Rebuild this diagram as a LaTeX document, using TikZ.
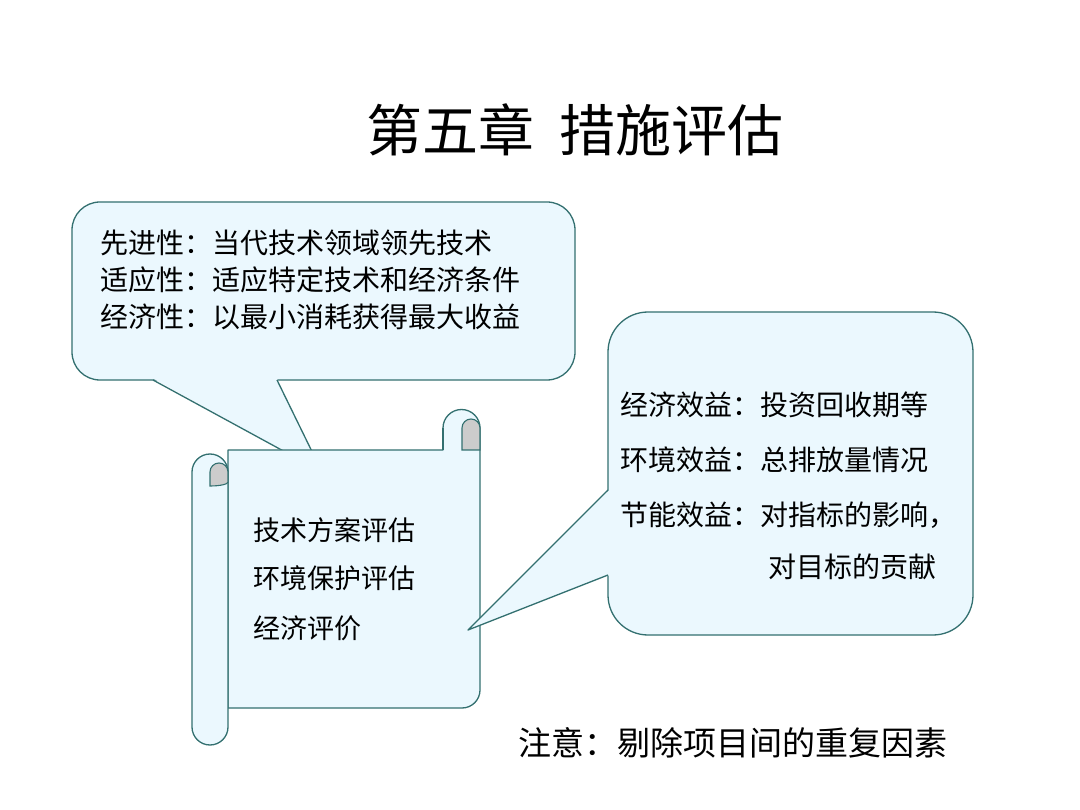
\documentclass[tikz,border=0pt]{standalone}
\usepackage{fontspec}
\newfontfamily\cjk{Noto Sans CJK SC}
\begin{document}
\begin{tikzpicture}[x=1pt,y=-1pt,
  shp/.style={draw=teal!60!black!80,fill=cyan!8,line width=1.3pt,line join=round},
  edge/.style={draw=teal!60!black!80,line width=1.3pt,line join=round},
  roll/.style={draw=teal!60!black!80,fill=gray!40,line width=1.1pt},
  txt/.style={font=\cjk\fontsize{28}{32}\selectfont,anchor=west,inner sep=0}]
\useasboundingbox (0,0) rectangle (1080,810);
\fill[white] (0,0) rectangle (1080,810);
\node[font=\cjk\fontsize{56}{60}\selectfont] (title) at (575,130) {第五章\ \ 措施评估};
% left callout
\draw[shp,rounded corners=28] (72,202) rectangle (575,380);
\fill[cyan!8] (153,378.5) -- (322,472) -- (277,378.5) -- cycle;
\coordinate (ltip) at (322,472);
\draw[edge] (153,380) -- (ltip) -- (277,380);
\node[txt] (l1) at (100,243) {先进性：当代技术领域领先技术};
\node[txt] (l2) at (100,280) {适应性：适应特定技术和经济条件};
\node[txt] (l3) at (100,317) {经济性：以最小消耗获得最大收益};
% right callout
\draw[shp,rounded corners=40] (608,312) rectangle (973,635);
\fill[cyan!8] (609.5,490) -- (468,630) -- (609.5,575) -- cycle;
\coordinate (rtip) at (468,630);
% scroll sheet
\draw[shp] (443,450) -- (443,428) arc (180:360:18.5) -- (480,690) arc (0:90:18) -- (228,708) -- (228,450) -- cycle;
\draw[roll] (462,450) -- (462,428) arc (180:360:9) -- (480,450) -- cycle;
\draw[edge] (443,428) -- (443,450);
% left roll
\draw[shp] (192,472) arc (180:360:18) -- (228,727) arc (0:180:18) -- cycle;
\draw[roll] (210,486) -- (210,472) arc (180:360:9) -- (228,482) arc (0:90:18 and 4) -- cycle;
% right tail over sheet
\fill[cyan!8] (609.5,490) -- (rtip) -- (609.5,575) -- cycle;
\draw[edge] (608,490) -- (rtip) -- (608,575);
\node[txt] (r1) at (620,405) {经济效益：投资回收期等};
\node[txt] (r2) at (620,460) {环境效益：总排放量情况};
\node[txt] (r3) at (620,515) {节能效益：对指标的影响，};
\node[txt] (r4) at (768,567) {对目标的贡献};
\node[txt,font=\cjk\fontsize{27}{30}\selectfont] (s1) at (253,530) {技术方案评估};
\node[txt,font=\cjk\fontsize{27}{30}\selectfont] (s2) at (253,578) {环境保护评估};
\node[txt,font=\cjk\fontsize{27}{30}\selectfont] (s3) at (253,628) {经济评价};
\node[txt,font=\cjk\fontsize{33}{36}\selectfont] (note) at (518,743) {注意：剔除项目间的重复因素};
\end{tikzpicture}
\end{document}
